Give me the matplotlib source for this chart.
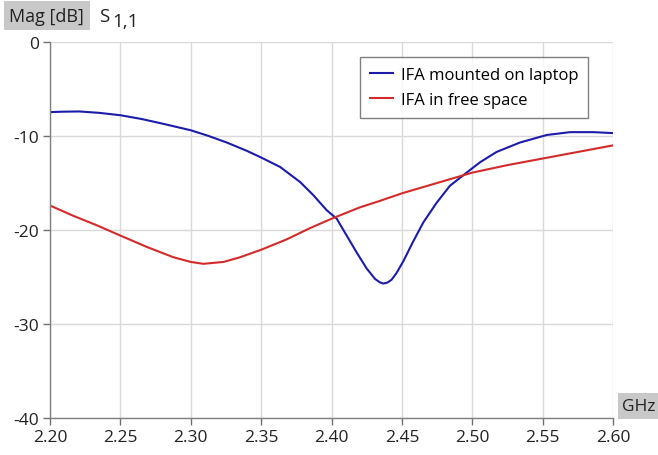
import matplotlib
matplotlib.use('Agg')
import matplotlib.pyplot as plt

plt.rcParams['font.family'] = ['Open Sans', 'DejaVu Sans']

# values (GHz, dB)
freq_laptop = [2.20, 2.21, 2.221, 2.235, 2.25, 2.265, 2.28, 2.30, 2.3125, 2.3255, 2.34,
               2.35, 2.3634, 2.3776, 2.387, 2.3965, 2.4036, 2.4107, 2.4178, 2.4249,
               2.4308, 2.434, 2.4367, 2.4395, 2.4425, 2.446, 2.451, 2.458, 2.4651,
               2.4746, 2.484, 2.4959, 2.5054, 2.5172, 2.5338, 2.5528, 2.5693, 2.5859,
               2.60]
mag_laptop = [-7.47, -7.42, -7.4, -7.55, -7.8, -8.2, -8.7, -9.4, -10.0, -10.7, -11.6,
              -12.3, -13.3, -14.9, -16.3, -17.9, -18.8, -20.6, -22.4, -24.1,
              -25.2, -25.55, -25.7, -25.6, -25.3, -24.6, -23.3, -21.2, -19.2,
              -17.1, -15.3, -13.9, -12.8, -11.7, -10.7, -9.9, -9.6, -9.6,
              -9.7]

freq_free = [2.20, 2.2166, 2.2332, 2.25, 2.2687, 2.2876, 2.30, 2.3089, 2.3232, 2.335,
             2.35, 2.3681, 2.3847, 2.40, 2.42, 2.4344, 2.45, 2.475, 2.50, 2.525,
             2.55, 2.575, 2.60]
mag_free = [-17.4, -18.5, -19.5, -20.6, -21.8, -22.9, -23.4, -23.6, -23.4, -22.9,
            -22.1, -21.0, -19.8, -18.8, -17.6, -16.9, -16.1, -15.0, -13.9, -13.1,
            -12.4, -11.7, -11.0]

xticks = [2.20, 2.25, 2.30, 2.35, 2.40, 2.45, 2.50, 2.55, 2.60]
yticks = [0, -10, -20, -30, -40]

fig = plt.figure(figsize=(6.58, 4.56), dpi=100)
ax = fig.add_axes([0.076, 0.081, 0.856, 0.825])

ax.plot(freq_laptop, mag_laptop, color='#1c1caa', lw=1.5, label='IFA mounted on laptop',
        solid_joinstyle='round')
ax.plot(freq_free, mag_free, color='#d42a2a', lw=1.5, label='IFA in free space',
        solid_joinstyle='round')

ax.set_xlim(2.20, 2.60)
ax.set_ylim(-40, 0)
ax.set_xticks(xticks)
ax.set_xticklabels(['%.2f' % t for t in xticks])
ax.set_yticks(yticks)
ax.set_yticklabels([str(t) for t in yticks])
ax.tick_params(labelsize=12.5, color='#707070', length=5, width=1, pad=3, labelcolor='#222222')

ax.grid(True, color='#d9d9d9', lw=1)
ax.set_axisbelow(True)
for s in ['top', 'right']:
    ax.spines[s].set_visible(False)
for s in ['left', 'bottom']:
    ax.spines[s].set_color('#808080')
    ax.spines[s].set_linewidth(1)

leg = ax.legend(loc='upper right', bbox_to_anchor=(0.956, 0.96), borderaxespad=0,
                fontsize=12, frameon=True, fancybox=False, handlelength=1.4,
                handletextpad=0.45, borderpad=0.6, labelspacing=0.55)
leg.get_frame().set_edgecolor('#606060')
leg.get_frame().set_linewidth(1)

fig.text(0.014, 0.963, 'Mag [dB]', fontsize=13, color='#222222', va='center',
         bbox=dict(facecolor='#c8c8c8', edgecolor='none', pad=4))
fig.text(0.150, 0.962, 'S', fontsize=13.5, color='#222222', va='center')
fig.text(0.171, 0.952, '1,1', fontsize=13.5, color='#222222', va='center')
fig.text(0.946, 0.107, 'GHz', fontsize=12.5, color='#222222', va='center',
         bbox=dict(facecolor='#c8c8c8', edgecolor='none', pad=3.5))

fig.savefig('out.png', dpi=100)
